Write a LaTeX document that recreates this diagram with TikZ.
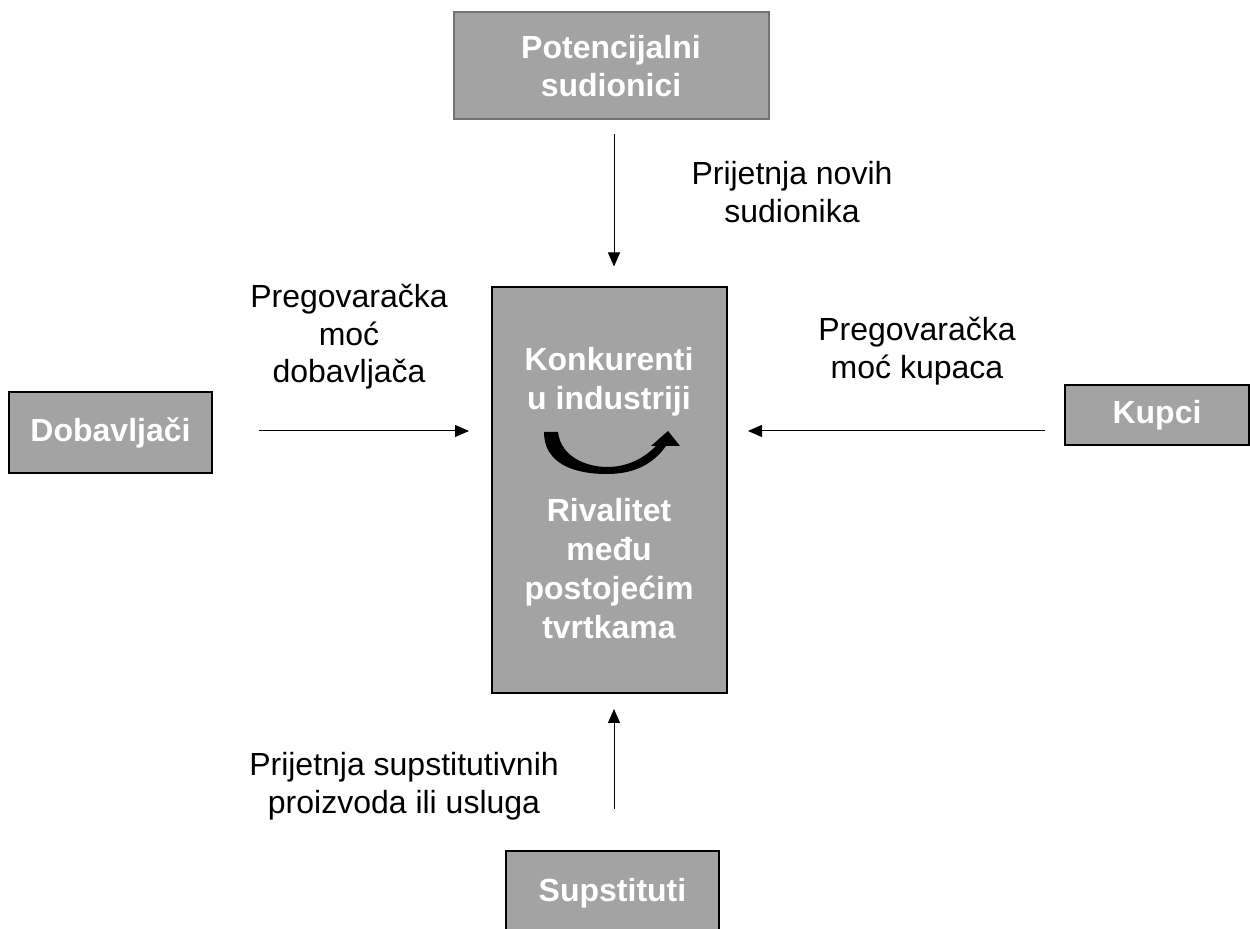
\documentclass[tikz,border=0pt]{standalone}
\usepackage{fontspec}
\setmainfont{Liberation Sans}
\usetikzlibrary{arrows.meta,calc}
\definecolor{boxgray}{HTML}{A3A3A3}
\begin{document}
\begin{tikzpicture}[x=0.5pt,y=-0.5pt,
	box/.style={draw=black,line width=1pt,fill=boxgray,text=white,font=\bfseries\fontsize{16}{19}\selectfont,align=center,inner sep=0pt},
	boxtxt/.style={text=white,font=\bfseries\fontsize{16}{19.5}\selectfont,align=center,inner sep=0pt},
	lbl/.style={align=center,font=\fontsize{16}{18.75}\selectfont,inner sep=0pt},
	arr/.style={line width=0.5pt,-{Triangle[length=7pt,width=6pt]}}]
	\useasboundingbox (0,0) rectangle (1250,929);
	% the five forces
	\node[box,draw=black!55,minimum width=157.5pt,minimum height=53.5pt] (pot) at (611,66) {Potencijalni\\sudionici};
	\node[box,minimum width=101.5pt,minimum height=40.5pt] (dob) at (110.5,432.5) {Dobavlja\v{c}i};
	\node[box,minimum width=92pt,minimum height=30pt] (kup) at (1157,415) {Kupci};
	\node[box,minimum width=106.5pt,minimum height=42pt] (sup) at (612.5,893) {Supstituti};
	\node[box,minimum width=117.5pt,minimum height=203pt] (center) at (609.5,490.5) {};
	\node[boxtxt] (konk) at (609,382) {Konkurenti\\u industriji};
	\node[boxtxt] (riv) at (609,569) {Rivalitet\\me\dj u\\postoje\'cim\\tvrtkama};
	% rivalry arrow
	\fill (544,432) -- (558,432) .. controls (561,458) and (588,467) .. (607,467)
		.. controls (628,467) and (644,458) .. (656,446) -- (651,446) -- (668,431) -- (680,446) -- (666,446)
		.. controls (651,467) and (630,474) .. (607,474) .. controls (571,474) and (544,462) .. (544,432) -- cycle;
	% arrows
	\draw[arr] ($(pot.south)+(3,14)$) -- ($(center.north)+(4.5,-20)$);
	\draw[arr] ($(dob.east)+(46,-1.5)$) -- ($(center.west)+(-22,-59.5)$);
	\draw[arr] ($(kup.west)+(-19,16)$) -- ($(center.east)+(20,-59.5)$);
	\draw[arr] ($(sup.north)+(1.5,-41)$) -- ($(center.south)+(4.5,14.5)$);
	% labels
	\node[lbl] (l1) at (792,192) {Prijetnja novih\\sudionika};
	\node[lbl] (l2) at (349,337) {Pregovara\v{c}ka\\mo\'c\\dobavlja\v{c}a};
	\node[lbl] (l3) at (917,351) {Pregovara\v{c}ka\\mo\'c kupaca};
	\node[lbl] (l4) at (404,786) {Prijetnja supstitutivnih\\proizvoda ili usluga};
\end{tikzpicture}
\end{document}
